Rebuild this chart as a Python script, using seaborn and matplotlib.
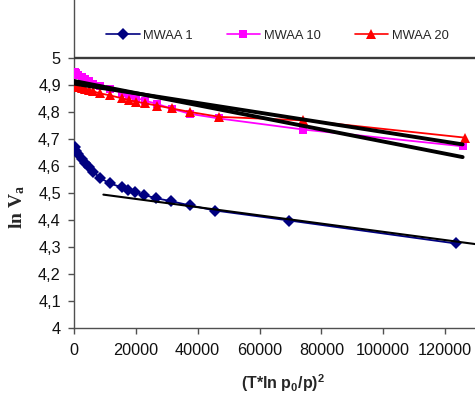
import matplotlib
matplotlib.use("Agg")
import matplotlib.pyplot as plt
import seaborn as sns
import pandas as pd

# ---- data ----
x_mwaa1 = [300, 700, 1400, 2500, 3600, 4700, 6300, 8400, 11500, 15400, 17400,
           19700, 22600, 26400, 31300, 37500, 45700, 69700, 123500]
y_mwaa1 = [4.670, 4.655, 4.643, 4.627, 4.612, 4.598, 4.578, 4.556, 4.536, 4.521,
           4.512, 4.503, 4.493, 4.481, 4.470, 4.454, 4.435, 4.398, 4.313]

x_mwaa10 = [300, 700, 1400, 2500, 3600, 4700, 6300, 8400, 11500, 15400, 17800,
            20200, 23000, 26800, 31700, 37600, 47000, 74200, 125700]
y_mwaa10 = [4.948, 4.944, 4.938, 4.930, 4.922, 4.915, 4.905, 4.895, 4.885, 4.872,
            4.862, 4.852, 4.842, 4.830, 4.812, 4.793, 4.776, 4.735, 4.673]

x_mwaa20 = [300, 700, 1400, 2500, 3600, 4700, 6300, 8400, 11500, 15400, 17800,
            20200, 23000, 26800, 31700, 37600, 47000, 74200, 126500]
y_mwaa20 = [4.897, 4.895, 4.893, 4.889, 4.885, 4.881, 4.876, 4.869, 4.862, 4.851,
            4.844, 4.838, 4.832, 4.824, 4.813, 4.800, 4.782, 4.769, 4.705]

# linear trend lines (end points)
trend1_x = [9500, 131000]
trend1_y = [4.494, 4.309]
trend10_x = [0, 125700]
trend10_y = [4.915, 4.633]
trend20_x = [0, 125700]
trend20_y = [4.905, 4.680]

series_names = ["MWAA 1", "MWAA 10", "MWAA 20"]
y_ticks = [4.0, 4.1, 4.2, 4.3, 4.4, 4.5, 4.6, 4.7, 4.8, 4.9, 5.0]
y_tick_labels = ["4", "4,1", "4,2", "4,3", "4,4", "4,5", "4,6", "4,7", "4,8", "4,9", "5"]
x_ticks = [0, 20000, 40000, 60000, 80000, 100000, 120000]
x_tick_labels = ["0", "20000", "40000", "60000", "80000", "100000", "120000"]

# ---- style ----
sns.set_theme(style="white")
plt.rcParams["font.family"] = ["Liberation Sans", "DejaVu Sans"]
plt.rcParams["mathtext.fontset"] = "custom"
plt.rcParams["mathtext.rm"] = "Liberation Serif:bold"
plt.rcParams["mathtext.sf"] = "Liberation Sans:bold"
plt.rcParams["mathtext.it"] = "Liberation Serif:bold"
plt.rcParams["mathtext.bf"] = "Liberation Serif:bold"

fig = plt.figure(figsize=(4.75, 3.96), dpi=100)
ax = fig.add_axes([74 / 475, 1 - 328 / 396, 1 - 74 / 475, 328 / 396])

df1 = pd.DataFrame({"x": x_mwaa1, "y": y_mwaa1})
df10 = pd.DataFrame({"x": x_mwaa10, "y": y_mwaa10})
df20 = pd.DataFrame({"x": x_mwaa20, "y": y_mwaa20})

sns.lineplot(data=df1, x="x", y="y", ax=ax, color="#000080", marker="D",
             markersize=6.5, markeredgewidth=0, linewidth=1.3, sort=False,
             label=series_names[0], zorder=3)
sns.lineplot(data=df10, x="x", y="y", ax=ax, color="#FF00FF", marker="s",
             markersize=5.5, markeredgewidth=0, linewidth=1.3, sort=False,
             label=series_names[1], zorder=3)
sns.lineplot(data=df20, x="x", y="y", ax=ax, color="#FF0000", marker="^",
             markersize=7, markeredgewidth=0, linewidth=1.3, sort=False,
             label=series_names[2], zorder=3.5)

sns.lineplot(x=trend1_x, y=trend1_y, ax=ax, color="black", linewidth=1.5,
             zorder=4, legend=False)
sns.lineplot(x=trend10_x, y=trend10_y, ax=ax, color="black", linewidth=2.8,
             zorder=4, legend=False)
sns.lineplot(x=trend20_x, y=trend20_y, ax=ax, color="black", linewidth=2.8,
             zorder=4, legend=False)

# line at the top of the value range (legend box border)
ax.axhline(5.0, color="#3a3a3a", linewidth=1.7, zorder=5)

ax.set_xlim(0, 129700)
ax.set_ylim(4.0, 5.0 + 58 / 270)
ax.set_yticks(y_ticks)
ax.set_yticklabels(y_tick_labels)
ax.set_xticks(x_ticks)
ax.set_xticklabels(x_tick_labels)

for s in ["top", "right"]:
    ax.spines[s].set_visible(False)
for s in ["left", "bottom"]:
    ax.spines[s].set_color("#505050")
    ax.spines[s].set_linewidth(1.0)
ax.tick_params(axis="both", which="major", direction="out", length=4.5,
               width=1.0, color="#505050", labelsize=11.7,
               labelcolor="#111111", left=True, bottom=True)
ax.tick_params(axis="y", pad=5)
ax.tick_params(axis="x", pad=6)

ax.set_xlabel(r"$\mathsf{(T{*}ln\ p_0/p)^2}$", fontsize=11.5)
ax.xaxis.set_label_coords(283 / 475, 1 - 372 / 396, transform=fig.transFigure)
ax.set_ylabel(r"$\mathrm{ln\ V_a}$", fontsize=14)
ax.yaxis.set_label_coords(27 / 475, 1 - 207 / 396, transform=fig.transFigure)

leg = ax.legend(loc="center left", bbox_to_anchor=(106 / 475, 1 - 36 / 396),
                bbox_transform=fig.transFigure, ncol=3, frameon=False,
                fontsize=9.3, handlelength=2.6, handletextpad=0.3,
                columnspacing=2.6, borderpad=0, borderaxespad=0)
for h in leg.legend_handles:
    h.set_linewidth(1.2)

fig.savefig("out.png", dpi=100)
